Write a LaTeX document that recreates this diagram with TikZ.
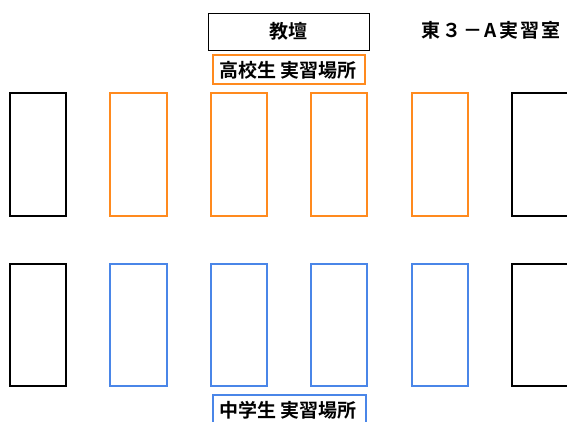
\documentclass[tikz,border=0pt]{standalone}
\usepackage{fontspec}
\newfontfamily\jp{Noto Sans CJK JP}[BoldFont={* Bold}]
\newfontfamily\jpwide{Noto Sans CJK JP}[BoldFont={* Bold},LetterSpace=11]
\definecolor{seatorange}{HTML}{FF8A1E}
\definecolor{seatblue}{HTML}{4A86E8}
\begin{document}
\begin{tikzpicture}[x=1pt,y=-1pt,
  desk/.style={draw=black,line width=1.2pt},
  odesk/.style={draw=seatorange,line width=1.5pt},
  bdesk/.style={draw=seatblue,line width=1.5pt},
  lbl/.style={font=\jp\bfseries\fontsize{19}{21}\selectfont,inner sep=0pt},
  wlbl/.style={font=\jpwide\bfseries\fontsize{19}{21}\selectfont,inner sep=0pt}]
\useasboundingbox (0,0) rectangle (567,421);
% teacher's platform
\draw[desk,line width=1pt] (208,13) rectangle (369,50);
\node[lbl] (kyodan) at (288.5,31.5) {教壇};
\node[wlbl] (room) at (491,30) {東３－A実習室};
% high school label
\draw[odesk] (213,55) rectangle (365,84);
\node[lbl] (hs) at (288,70) {高校生 実習場所};
% top row
\draw[desk] (10,93) rectangle (66,216);
\draw[odesk] (110,93) rectangle (167,216);
\draw[odesk] (211,93) rectangle (267,216);
\draw[odesk] (311,93) rectangle (367,216);
\draw[odesk] (412,93) rectangle (468,216);
\draw[desk] (512,93) rectangle (580,216);
% bottom row
\draw[desk] (10,264) rectangle (66,386);
\draw[bdesk] (110,264) rectangle (167,386);
\draw[bdesk] (211,264) rectangle (267,386);
\draw[bdesk] (311,264) rectangle (367,386);
\draw[bdesk] (412,264) rectangle (468,386);
\draw[desk] (512,264) rectangle (580,386);
% junior high label
\draw[bdesk] (213,395) rectangle (366,440);
\node[lbl] (jhs) at (288,410) {中学生 実習場所};
\end{tikzpicture}
\end{document}
